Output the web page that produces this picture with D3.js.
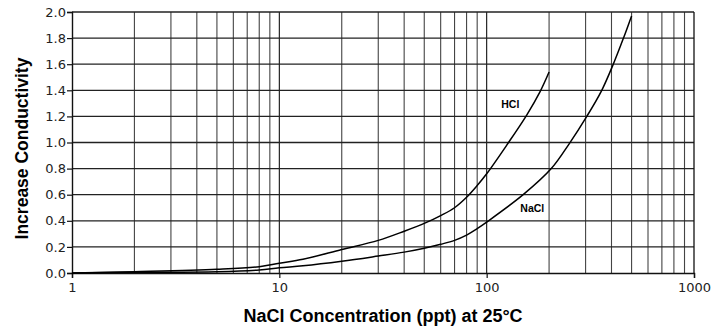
<!DOCTYPE html>
<html>
<head>
<meta charset="utf-8">
<script src="https://cdn.jsdelivr.net/npm/d3@7"></script>
<style>
  body { margin: 0; background: #fff; }
  svg { display: block; }
</style>
</head>
<body>
<div id="chart"></div>
<script>
// values (x = ppt NaCl, y = increase in conductivity)
var hclX = [1, 2, 5, 8, 10, 13, 20, 30, 40, 50, 60, 70, 80, 90, 100, 125, 156, 181, 200];
var hclY = [0, 0.01, 0.028, 0.048, 0.075, 0.105, 0.18, 0.25, 0.32, 0.38, 0.44, 0.5, 0.58, 0.67, 0.76, 0.98, 1.21, 1.39, 1.54];

var naclX = [1, 2, 5, 8, 10, 13, 20, 30, 40, 50, 60, 70, 80, 90, 100, 150, 205, 250, 304, 359, 408, 457, 500];
var naclY = [0, 0.005, 0.01, 0.023, 0.04, 0.055, 0.09, 0.13, 0.16, 0.19, 0.22, 0.25, 0.29, 0.34, 0.39, 0.6, 0.8, 0.99, 1.2, 1.4, 1.6, 1.8, 1.97];

var xTicks = [1, 10, 100, 1000];
var yTicks = [0, 0.2, 0.4, 0.6, 0.8, 1.0, 1.2, 1.4, 1.6, 1.8, 2.0];

var margin = {top: 12, right: 33, bottom: 59, left: 72},
    width = 727 - margin.left - margin.right,
    height = 332 - margin.top - margin.bottom;

var svg = d3.select("#chart").append("svg")
    .attr("width", 727)
    .attr("height", 332)
  .append("g")
    .attr("transform", "translate(" + margin.left + "," + margin.top + ")");

var x = d3.scaleLog().domain([1, 1000]).range([0, width]);
var y = d3.scaleLinear().domain([0, 2]).range([height, 0]);

// vertical grid: every 1..9 of each decade
var gridX = x.ticks().filter(function(d) { return d > 1 && d < 1000; });
svg.selectAll(".vgrid")
  .data(gridX)
.enter().append("line")
  .attr("class", "vgrid")
  .attr("x1", function(d) { return x(d); })
  .attr("x2", function(d) { return x(d); })
  .attr("y1", 0)
  .attr("y2", height)
  .attr("stroke", function(d) { return xTicks.indexOf(d) >= 0 ? "#111" : "#444"; })
  .attr("stroke-width", 1.1);

svg.selectAll(".hgrid")
  .data(yTicks.filter(function(d) { return d > 0; }))
.enter().append("line")
  .attr("class", "hgrid")
  .attr("x1", 0)
  .attr("x2", width)
  .attr("y1", function(d) { return y(d); })
  .attr("y2", function(d) { return y(d); })
  .attr("stroke", "#222")
  .attr("stroke-width", 1.3);

// right frame
svg.append("line")
  .attr("x1", width).attr("x2", width)
  .attr("y1", 0).attr("y2", height)
  .attr("stroke", "#111").attr("stroke-width", 1.3);

// axes
var yAxis = svg.append("g")
  .call(d3.axisLeft(y).tickValues(yTicks).tickFormat(d3.format(".1f")).tickSize(5).tickPadding(1));
var xAxis = svg.append("g")
  .attr("transform", "translate(0," + height + ")")
  .call(d3.axisBottom(x).tickValues(xTicks).tickFormat(d3.format("d")).tickSize(5).tickPadding(5));

[xAxis, yAxis].forEach(function(a) {
  a.select(".domain").attr("stroke", "#111").attr("stroke-width", 1.4);
  a.selectAll(".tick line").attr("stroke", "#111").attr("stroke-width", 1.2);
  a.selectAll("text")
    .attr("fill", "#222")
    .style("font-family", "DejaVu Sans")
    .style("font-size", "13px");
});

// curves
var line = d3.line()
  .x(function(d) { return x(d[0]); })
  .y(function(d) { return y(d[1]); })
  .curve(d3.curveCatmullRom.alpha(0.5));

svg.append("path")
  .datum(d3.zip(hclX, hclY))
  .attr("d", line)
  .attr("fill", "none")
  .attr("stroke", "#000")
  .attr("stroke-width", 1.5);

svg.append("path")
  .datum(d3.zip(naclX, naclY))
  .attr("d", line)
  .attr("fill", "none")
  .attr("stroke", "#000")
  .attr("stroke-width", 1.5);

// curve labels
svg.append("text")
  .attr("x", x(130)).attr("y", y(1.265))
  .attr("text-anchor", "middle")
  .style("font-family", "Liberation Sans").style("font-weight", "bold").style("font-size", "10.5px")
  .text("HCl");

svg.append("text")
  .attr("x", x(166)).attr("y", y(0.5) + 4)
  .attr("text-anchor", "middle")
  .style("font-family", "Liberation Sans").style("font-weight", "bold").style("font-size", "10.5px")
  .text("NaCl");

// axis titles
svg.append("text")
  .attr("x", width / 2)
  .attr("y", 310)
  .attr("text-anchor", "middle")
  .style("font-family", "Liberation Sans").style("font-weight", "bold").style("font-size", "18px")
  .text("NaCl Concentration (ppt) at 25°C");

svg.append("text")
  .attr("transform", "translate(-44," + (height / 2 + 6) + ") rotate(-90)")
  .attr("text-anchor", "middle")
  .style("font-family", "Liberation Sans").style("font-weight", "bold").style("font-size", "17.5px")
  .text("Increase Conductivity");
</script>
</body>
</html>
